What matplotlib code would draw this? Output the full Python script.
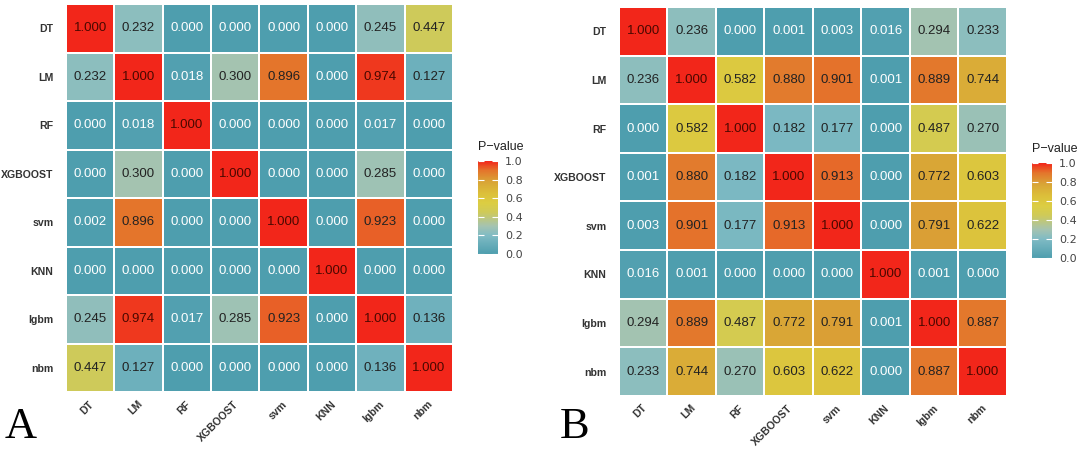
import numpy as np
import matplotlib
matplotlib.use("Agg")
import matplotlib.pyplot as plt
import matplotlib.transforms as mtrans
from matplotlib.colors import LinearSegmentedColormap

# 模型名称
models = ["DT", "LM", "RF", "XGBOOST", "svm", "KNN", "lgbm", "nbm"]

# A 图 P 值矩阵
pval_A = [
    [1.000, 0.232, 0.000, 0.000, 0.000, 0.000, 0.245, 0.447],
    [0.232, 1.000, 0.018, 0.300, 0.896, 0.000, 0.974, 0.127],
    [0.000, 0.018, 1.000, 0.000, 0.000, 0.000, 0.017, 0.000],
    [0.000, 0.300, 0.000, 1.000, 0.000, 0.000, 0.285, 0.000],
    [0.002, 0.896, 0.000, 0.000, 1.000, 0.000, 0.923, 0.000],
    [0.000, 0.000, 0.000, 0.000, 0.000, 1.000, 0.000, 0.000],
    [0.245, 0.974, 0.017, 0.285, 0.923, 0.000, 1.000, 0.136],
    [0.447, 0.127, 0.000, 0.000, 0.000, 0.000, 0.136, 1.000],
]

# B 图 P 值矩阵
pval_B = [
    [1.000, 0.236, 0.000, 0.001, 0.003, 0.016, 0.294, 0.233],
    [0.236, 1.000, 0.582, 0.880, 0.901, 0.001, 0.889, 0.744],
    [0.000, 0.582, 1.000, 0.182, 0.177, 0.000, 0.487, 0.270],
    [0.001, 0.880, 0.182, 1.000, 0.913, 0.000, 0.772, 0.603],
    [0.003, 0.901, 0.177, 0.913, 1.000, 0.000, 0.791, 0.622],
    [0.016, 0.001, 0.000, 0.000, 0.000, 1.000, 0.001, 0.000],
    [0.294, 0.889, 0.487, 0.772, 0.791, 0.001, 1.000, 0.887],
    [0.233, 0.744, 0.270, 0.603, 0.622, 0.000, 0.887, 1.000],
]

# 颜色映射
cmap = LinearSegmentedColormap.from_list("pv", [
    (0.00, "#4e9eae"), (0.20, "#80bbc4"), (0.30, "#a5c3b0"),
    (0.45, "#cfca58"), (0.55, "#dccd42"), (0.65, "#dcc03a"),
    (0.78, "#d9a436"), (0.90, "#e4742b"), (1.00, "#f2261a")])

fig = plt.figure(figsize=(10.8, 4.51), dpi=100)


def draw_heat(pos, cpos, data, letter, letter_xy):
    data = np.array(data)
    n = len(models)
    ax = fig.add_axes(pos)
    im = ax.pcolormesh(np.arange(n + 1), np.arange(n + 1), data, cmap=cmap,
                       vmin=0, vmax=1, edgecolor="white", linewidth=1.3)
    ax.set_xlim(0, n)
    ax.set_ylim(n, 0)
    for i in range(n):
        for j in range(n):
            v = data[i, j]
            c = "white" if v < 0.05 else "#222222"
            if v >= 0.95:
                c = "#4a0800"
            ax.text(j + 0.5, i + 0.5, "%.3f" % v, ha="center", va="center",
                    fontsize=9.5, color=c, family="Liberation Sans")
    ax.set_xticks(np.arange(n) + 0.5)
    ax.set_yticks(np.arange(n) + 0.5)
    ax.set_xticklabels(models, rotation=45, ha="right", va="top",
                       fontsize=7.6, fontweight="bold", color="#333333",
                       family="Liberation Sans")
    ax.set_yticklabels(models, fontsize=7.6, fontweight="bold",
                       color="#333333", family="Liberation Sans")
    ax.tick_params(axis="y", length=0, pad=9)
    ax.tick_params(axis="x", length=0, pad=5)
    # 横轴标签稍向右移
    off = mtrans.ScaledTranslation(4 / 72, 0, fig.dpi_scale_trans)
    for lab in ax.get_xticklabels():
        lab.set_transform(lab.get_transform() + off)
    for s in ax.spines.values():
        s.set_visible(False)

    cax = fig.add_axes(cpos)
    cb = fig.colorbar(im, cax=cax, ticks=[0, 0.2, 0.4, 0.6, 0.8, 1.0])
    cb.outline.set_visible(False)
    cb.ax.set_yticklabels(["0.0", "0.2", "0.4", "0.6", "0.8", "1.0"])
    cb.ax.tick_params(labelsize=8, labelcolor="#444444", color="white",
                      direction="in", length=4, width=0.8, pad=5,
                      left=True)
    cax.set_title("P\u2212value", fontsize=9, loc="left", pad=8,
                  family="Liberation Sans", color="#222222")

    fig.text(letter_xy[0], letter_xy[1], letter, fontsize=32,
             family="Liberation Serif", ha="left", va="baseline")


draw_heat([0.0611, 0.1308, 0.3583, 0.8603], [0.4426, 0.4368, 0.0185, 0.2062],
          pval_A, "A", (0.004, 0.029))
draw_heat([0.5731, 0.1220, 0.3593, 0.8625], [0.9556, 0.4279, 0.0185, 0.2106],
          pval_B, "B", (0.518, 0.029))

fig.savefig("out.png", dpi=100)
